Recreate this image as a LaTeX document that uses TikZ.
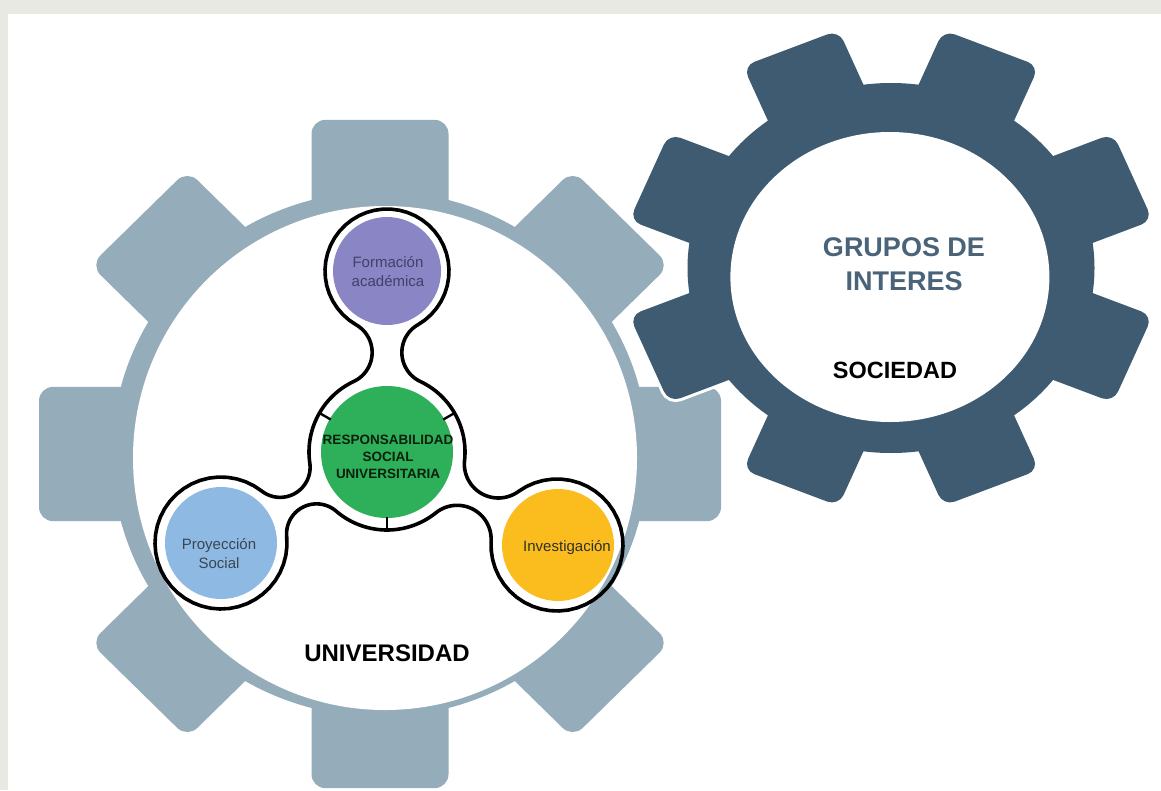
\documentclass[tikz,border=0pt]{standalone}
\usepackage{fontspec}
\setmainfont{Liberation Sans}
\usetikzlibrary{calc}
\definecolor{bgframe}{HTML}{E9E9E4}
\definecolor{gearlight}{HTML}{95ADBB}
\definecolor{geardark}{HTML}{3E5B71}
\definecolor{grupos}{HTML}{4A6379}
\definecolor{cpurple}{HTML}{8A86C6}
\definecolor{cgreen}{HTML}{2EB05A}
\definecolor{cblue}{HTML}{8DB9E2}
\definecolor{cyellow}{HTML}{FBBD1E}
\definecolor{tpurple}{HTML}{40406A}
\definecolor{tblue}{HTML}{3A4654}
\definecolor{tyellow}{HTML}{2F2F2F}
\definecolor{tgreen}{HTML}{0B1F0B}
\tikzset{
  outseg/.style={domain=0:1,samples=40,variable=\t},
  outline/.style={draw=black,line width=3.6pt,line join=round},
  ball/.style={circle,inner sep=0pt,draw=none},
  smalltxt/.style={align=center,font=\fontsize{15}{19}\selectfont},
  bigtxt/.style={align=center,font=\bfseries\fontsize{24}{28}\selectfont},
}
\begin{document}
\begin{tikzpicture}[x=1pt,y=-1pt]
\useasboundingbox (0,0) rectangle (1161,790);
\clip (0,0) rectangle (1161,790);
\fill[bgframe] (0,0) rectangle (1161,790);
\fill[white] (8,14) rectangle (1161,790);

% left gear (UNIVERSIDAD)
\begin{scope}[shift={(380,454)}, yscale=0.98]
  \fill[gearlight] (0,0) circle[radius=268];
  \foreach \a in {0,45,...,315}
    \fill[gearlight, rotate=\a, rounded corners=14pt]
      (-68.5,-200) -- (-68.5,-341) -- (68.5,-341) -- (68.5,-200) -- cycle;
\end{scope}
\fill[white] (385,458) circle[radius=252];

% right gear (SOCIEDAD)
\begin{scope}[shift={(891,268)}, xscale=1.1]
  \foreach \a in {22.5,67.5,...,337.5}
    \filldraw[white, line width=6pt, rotate=\a, rounded corners=12pt]
      (-47,-150) -- (-47,-238) -- (47,-238) -- (47,-150) -- cycle;
  \filldraw[white, line width=6pt] (0,0) circle[radius=185];
  \fill[geardark] (0,0) circle[radius=185];
  \foreach \a in {22.5,67.5,...,337.5}
    \fill[geardark, rotate=\a, rounded corners=12pt]
      (-47,-150) -- (-47,-238) -- (47,-238) -- (47,-150) -- cycle;
  \fill[white] (-1,9) circle[radius=145];
\end{scope}

% outline around the four circles
\draw[outline]
  plot[outseg] ({387+62*cos(119.91+300.18*\t)},{271+62*sin(119.91+300.18*\t)})
  -- plot[outseg] ({433.87+32*cos(240.09-124.87*\t)},{352.48+32*sin(240.09-124.87*\t)})
  -- plot[outseg] ({387+78*cos(295.22+70.93*\t)},{452+78*sin(295.22+70.93*\t)})
  -- plot[outseg] ({498.35+34*cos(186.15-132.06*\t)},{464+34*sin(186.15-132.06*\t)})
  -- plot[outseg] ({557+66*cos(234.09+309.18*\t)},{545+66*sin(234.09+309.18*\t)})
  -- plot[outseg] ({457.15+34*cos(3.27-132.05*\t)},{539.30+34*sin(3.27-132.05*\t)})
  -- plot[outseg] ({387+78*cos(51.22+79.48*\t)},{452+78*sin(51.22+79.48*\t)})
  -- plot[outseg] ({316.56+30*cos(310.70-136.16*\t)},{533.87+30*sin(310.70-136.16*\t)})
  -- plot[outseg] ({221+66*cos(354.54+313.46*\t)},{543+66*sin(354.54+313.46*\t)})
  -- plot[outseg] ({280.10+30*cos(128-136.17*\t)},{467.35+30*sin(128-136.17*\t)})
  -- plot[outseg] ({387+78*cos(171.83+72.95*\t)},{452+78*sin(171.83+72.95*\t)})
  -- plot[outseg] ({340.13+32*cos(64.78-124.87*\t)},{352.48+32*sin(64.78-124.87*\t)})
  -- cycle;

% circles
\node[ball, fill=cpurple, minimum size=108pt] (form) at (387,271) {};
\node[ball, fill=cgreen, minimum size=132pt] (rsu) at (387,452) {};
\node[ball, fill=cblue, minimum size=112pt] (proy) at (221,543) {};
\node[ball, fill=cyellow, minimum size=112pt] (inv) at (558,545) {};

% ticks between the green circle and the outline
\foreach \a in {90,210,330}
  \draw[line width=2.4pt] ($(rsu)+(\a:65)$) -- ($(rsu)+(\a:79)$);

% texts
\node[smalltxt, text=tpurple] (tform) at (388,272) {Formación\\académica};
\node[smalltxt, text=tblue] (tproy) at (219,554) {Proyección\\Social};
\node[smalltxt, text=tyellow] (tinv) at (567,548) {Investigación};
\node[align=center, text=tgreen, font=\bfseries\fontsize{13.5}{17}\selectfont] (trsu) at (388,457)
  {RESPONSABILIDAD\\SOCIAL\\UNIVERSITARIA};
\node[bigtxt, text=black] (univ) at (387,653) {UNIVERSIDAD};
\node[align=center, text=grupos, font=\bfseries\fontsize{27}{34}\selectfont] (grupos) at (904,264)
  {GRUPOS DE\\INTERES};
\node[text=black, font=\bfseries\fontsize{23.5}{28}\selectfont] (soc) at (895,370) {SOCIEDAD};
\end{tikzpicture}
\end{document}
